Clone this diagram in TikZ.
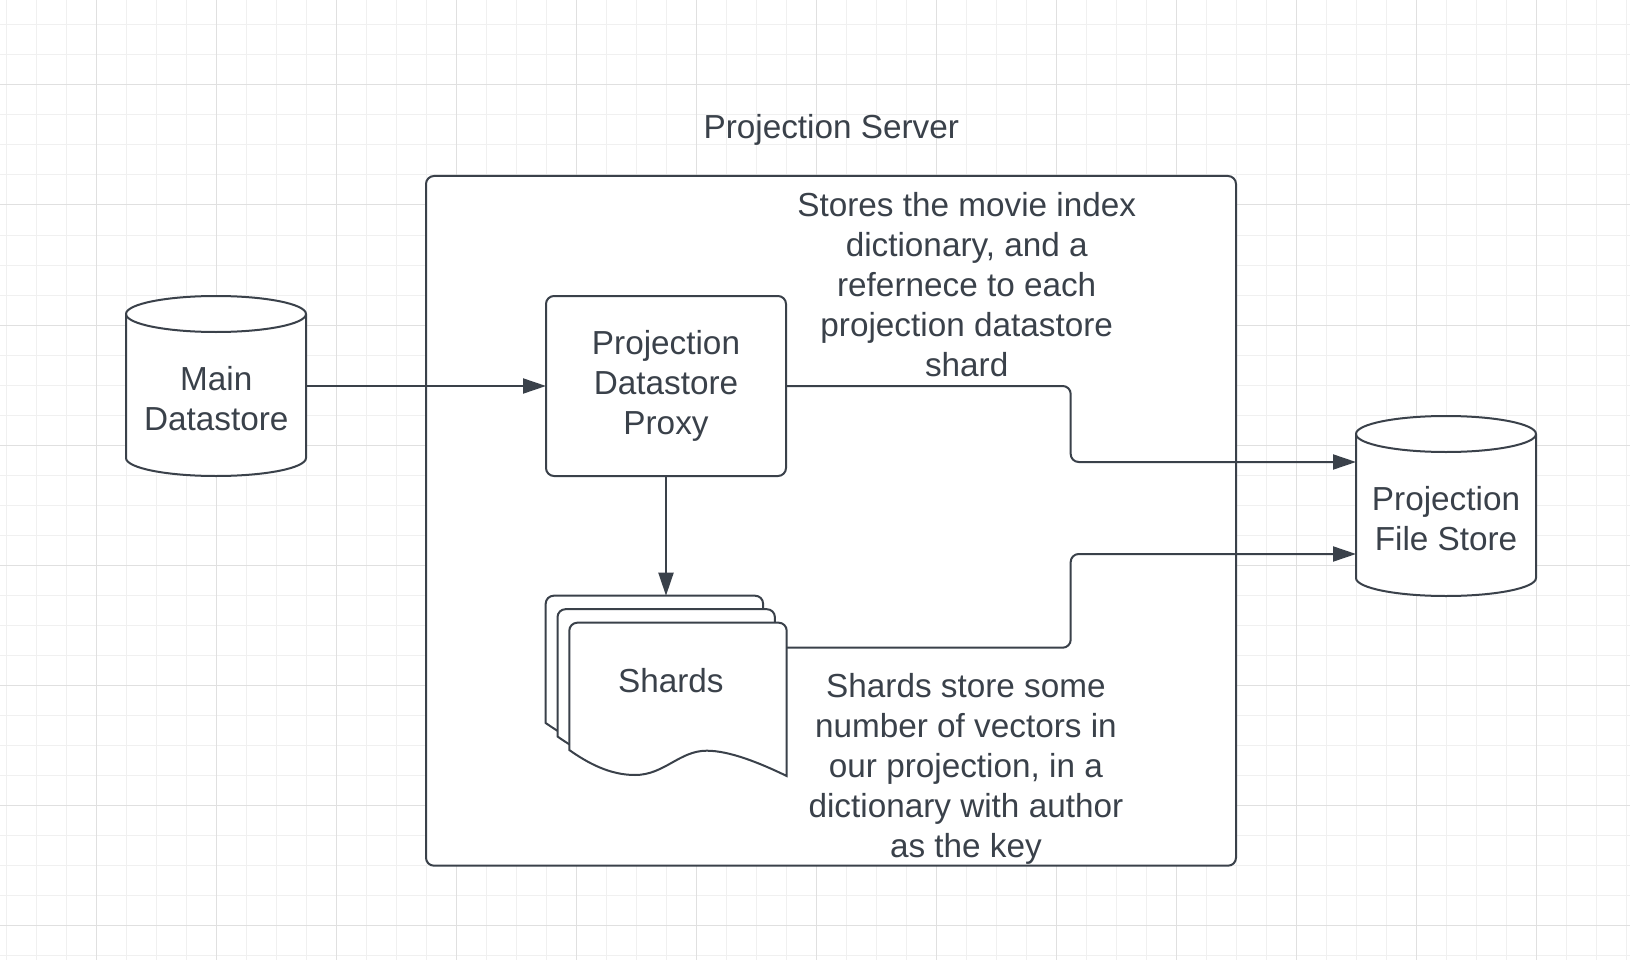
\documentclass[tikz,border=0pt]{standalone}
\usepackage{fontspec}
\setmainfont{Liberation Sans}
\usetikzlibrary{arrows.meta,calc}
\definecolor{ink}{HTML}{3A414A}
\definecolor{gridminor}{HTML}{F0F0F0}
\definecolor{gridmajor}{HTML}{E0E0E0}
\begin{document}
\begin{tikzpicture}[x=1pt,y=-1pt,
  shapeline/.style={draw=ink, line width=2pt, fill=white},
  conn/.style={draw=ink, line width=2pt, -{Triangle[length=23pt,width=15pt]}, rounded corners=8pt},
  lbl/.style={text=ink, font=\fontsize{33.3}{40}\selectfont, inner sep=0pt, anchor=base},
  box/.style={inner sep=0pt, outer sep=0pt},
  cylinder/.pic={
    \path[shapeline] (-90,-72) -- (-90,72) .. controls (-90,81.94) and (-49.7,90) .. (0,90)
      .. controls (49.7,90) and (90,81.94) .. (90,72) -- (90,-72)
      .. controls (90,-81.94) and (49.7,-90) .. (0,-90)
      .. controls (-49.7,-90) and (-90,-81.94) .. (-90,-72) -- cycle;
    \draw[draw=ink, line width=2pt] (-90,-72) .. controls (-90,-62.06) and (-49.7,-54) .. (0,-54)
      .. controls (49.7,-54) and (90,-62.06) .. (90,-72);
  },
  docpage/.pic={
    \path[shapeline] (0,127.3) -- (0,8) .. controls (0,3.58) and (3.58,0) .. (8,0)
      -- (209.4,0) .. controls (213.82,0) and (217.4,3.58) .. (217.4,8)
      -- (217.4,153.3) .. controls (190,140) and (160,128) .. (137.4,128)
      .. controls (110,128) and (95,152.3) .. (65.7,152.3)
      .. controls (40,152.3) and (18,140) .. (0,127.3) -- cycle;
  },
]
\useasboundingbox (0,0) rectangle (1630,960);
\fill[white] (0,0) rectangle (1630,960);
% grid
\foreach \x in {6.7,36.7,...,1630} \draw[gridminor, line width=1pt] (\x,0) -- (\x,960);
\foreach \y in {25,55,...,960} \draw[gridminor, line width=1pt] (0,\y) -- (1630,\y);
\foreach \x in {96.7,216.7,...,1630} \draw[gridmajor, line width=1pt] (\x,0) -- (\x,960);
\foreach \y in {85,205,...,960} \draw[gridmajor, line width=1pt] (0,\y) -- (1630,\y);

% server container
\node[box, shapeline, rounded corners=8pt, minimum width=810, minimum height=689.7] (server) at (831,520.85) {};
\node[lbl] (servertitle) at (831.3,138.5) {Projection Server};

% main datastore
\node[box, minimum width=180, minimum height=180] (main) at (216,386) {};
\pic at (main) {cylinder};
\node[lbl] (maintext) at (216.3,390) {\begin{tabular}[t]{@{}c@{}}Main\\Datastore\end{tabular}};

% projection file store
\node[box, minimum width=180, minimum height=180] (fs) at (1446,506) {};
\pic at (fs) {cylinder};
\node[lbl] (fstext) at (1446,510) {\begin{tabular}[t]{@{}c@{}}Projection\\File Store\end{tabular}};

% proxy
\node[box, shapeline, rounded corners=8pt, minimum width=240, minimum height=180] (proxy) at (666,386) {};
\node[lbl] (proxytext) at (666,354) {\begin{tabular}[t]{@{}c@{}}Projection\\Datastore\\Proxy\end{tabular}};

% shards (stacked documents)
\pic at (545.7,595.7) {docpage};
\pic at (557.5,609.2) {docpage};
\pic at (569.3,622.7) {docpage};
\node[box, minimum width=217.4, minimum height=153.3, anchor=north west] (shardsback) at (545.7,595.7) {};
\node[box, minimum width=217.4, minimum height=153.3, anchor=north west] (shards) at (569.3,622.7) {};
\node[lbl] (shardslbl) at (670.8,692.5) {Shards};

% helper coordinates
\coordinate (xb) at (1070.7,386);
\coordinate (shout) at ($(shards.north east)+(0,25)$);
\coordinate (fsin1) at ($(fs.west)+(0,-44)$);
\coordinate (fsin2) at ($(fs.west)+(0,48)$);

% connectors
\draw[conn] (main.east) -- (proxy.west);
\draw[conn] (proxy.south) -- (proxy.south |- shardsback.north);
\draw[conn] (proxy.east) -- (proxy.east -| xb) |- (fsin1);
\draw[conn] (shout) -- (shout -| xb) |- (fsin2);

% notes
\node[lbl] (note1) at (966.7,216.5) {\begin{tabular}[t]{@{}c@{}}Stores the movie index\\dictionary, and a\\refernece to each\\projection datastore\\shard\end{tabular}};
\node[lbl] (note2) at (965.9,697) {\begin{tabular}[t]{@{}c@{}}Shards store some\\number of vectors in\\our projection, in a\\dictionary with author\\as the key\end{tabular}};
\end{tikzpicture}
\end{document}
